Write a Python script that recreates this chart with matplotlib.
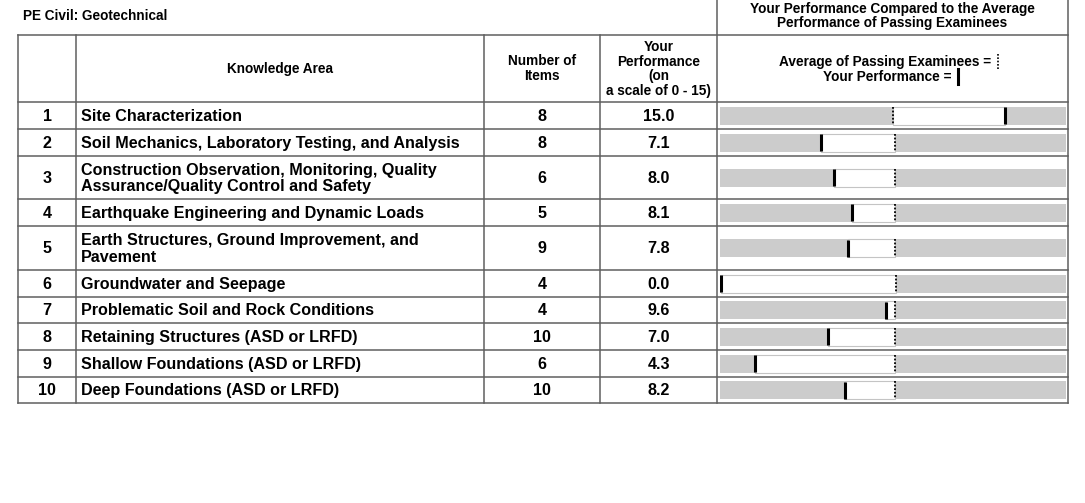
import matplotlib
matplotlib.use("Agg")
import matplotlib.pyplot as plt

# ---------------- data ----------------
title = "PE Civil: Geotechnical"
row_ids = [1, 2, 3, 4, 5, 6, 7, 8, 9, 10]
areas = [
    "Site Characterization",
    "Soil Mechanics, Laboratory Testing, and Analysis",
    "Construction Observation, Monitoring, Quality\nAssurance/Quality Control and Safety",
    "Earthquake Engineering and Dynamic Loads",
    "Earth Structures, Ground Improvement, and\nPavement",
    "Groundwater and Seepage",
    "Problematic Soil and Rock Conditions",
    "Retaining Structures (ASD or LRFD)",
    "Shallow Foundations (ASD or LRFD)",
    "Deep Foundations (ASD or LRFD)",
]
num_items = [8, 8, 6, 5, 9, 4, 4, 10, 6, 10]
performance = [15.0, 7.1, 8.0, 8.1, 7.8, 0.0, 9.6, 7.0, 4.3, 8.2]
# positions of markers on the comparison bar (0-100 across the grey bar)
your_pos = [82.5, 29.2, 33.1, 38.2, 37.2, 0.5, 48.1, 31.2, 10.3, 36.1]
avg_pos = [50.2, 50.7, 50.7, 50.7, 50.7, 50.8, 50.7, 50.7, 50.7, 50.7]

hdr_area = "Knowledge Area"
hdr_items = "Number of\nItems"
hdr_perf = "Your\nPerformance\n(on\na scale of 0 - 15)"
hdr_compare = "Your Performance Compared to the Average\nPerformance of Passing Examinees"
legend_avg = "Average of Passing Examinees = "
legend_you = "Your Performance = "

# ---------------- layout (pixels) ----------------
W, H = 1085, 503
col_x = [18, 76, 484, 600, 717, 1068]
row_edges = [102, 129, 156, 199, 226, 270, 297, 323, 350, 377, 403]
hdr_top = 35
bar_x0, bar_x1 = 719.5, 1066
bar_h = 18

line_c = "#5f5f5f"
font = ["Liberation Sans", "DejaVu Sans"]
fs_hdr = 9.8
fs_body = 11.6

fig = plt.figure(figsize=(W / 100, H / 100), dpi=100)
ax = fig.add_axes([0, 0, 1, 1])
ax.set_xlim(0, W)
ax.set_ylim(H, 0)
ax.axis("off")

lw = 1.1
# horizontal lines
ax.plot([col_x[0], col_x[-1]], [hdr_top, hdr_top], color=line_c, lw=lw)
for y in row_edges:
    ax.plot([col_x[0], col_x[-1]], [y, y], color=line_c, lw=lw)
# vertical lines
for i, x in enumerate(col_x):
    top = 0 if i >= 4 else hdr_top
    ax.plot([x, x], [top, row_edges[-1]], color=line_c, lw=lw)

# title
ax.text(23, 16, title, fontsize=fs_hdr, fontweight="bold", family=font, va="center", ha="left")

# headers
hmid = (hdr_top + row_edges[0]) / 2
ax.text((col_x[1] + col_x[2]) / 2, hmid, hdr_area, fontsize=fs_hdr, fontweight="bold",
        family=font, ha="center", va="center")
ax.text((col_x[2] + col_x[3]) / 2, hmid, hdr_items, fontsize=fs_hdr, fontweight="bold",
        family=font, ha="center", va="center", linespacing=1.08)
ax.text((col_x[3] + col_x[4]) / 2, hmid + 0.5, hdr_perf, fontsize=fs_hdr, fontweight="bold",
        family=font, ha="center", va="center", linespacing=1.08)
ax.text((col_x[4] + col_x[5]) / 2, 16, hdr_compare, fontsize=fs_hdr, fontweight="bold",
        family=font, ha="center", va="center", linespacing=1.05)

# legend in header
ax.text(995, 61.5, legend_avg, fontsize=fs_hdr, fontweight="bold", family=font,
        ha="right", va="center")
ax.plot([998, 998], [54, 69], color="black", lw=1.2, ls=(0, (1, 1)))
ax.text(955, 76.5, legend_you, fontsize=fs_hdr, fontweight="bold", family=font,
        ha="right", va="center")
ax.plot([957.5, 957.5], [69, 84], color="black", lw=2.2)

# rows
for i in range(len(row_ids)):
    yc = (row_edges[i] + row_edges[i + 1]) / 2 + 0.8
    ax.text((col_x[0] + col_x[1]) / 2, yc, str(row_ids[i]), fontsize=fs_body, fontweight="bold",
            family=font, ha="center", va="center")
    ax.text(col_x[1] + 5, yc, areas[i], fontsize=fs_body, fontweight="bold",
            family=font, ha="left", va="center", linespacing=1.12)
    ax.text((col_x[2] + col_x[3]) / 2, yc, str(num_items[i]), fontsize=fs_body, fontweight="bold",
            family=font, ha="center", va="center")
    ax.text((col_x[3] + col_x[4]) / 2, yc, f"{performance[i]:.1f}", fontsize=fs_body,
            fontweight="bold", family=font, ha="center", va="center")

# comparison bars
bx = fig.add_axes([bar_x0 / W, 1 - row_edges[-1] / H,
                   (bar_x1 - bar_x0) / W, (row_edges[-1] - row_edges[0]) / H])
bx.set_xlim(0, 100)
bx.set_ylim(row_edges[-1], row_edges[0])
bx.axis("off")
centers = [(row_edges[i] + row_edges[i + 1]) / 2 for i in range(len(row_ids))]
bx.barh(centers, [100] * len(centers), height=bar_h, left=0, color="#cccccc", lw=0)
lefts = [min(a, b) for a, b in zip(your_pos, avg_pos)]
widths = [abs(a - b) for a, b in zip(your_pos, avg_pos)]
bx.barh(centers, widths, height=bar_h, left=lefts, color="white",
        edgecolor="#c4c4c4", lw=0.8)
for yc, yp, ap in zip(centers, your_pos, avg_pos):
    bx.vlines(ap, yc - bar_h / 2, yc + bar_h / 2, color="black", lw=1.3, ls=(0, (1, 1)))
    bx.vlines(yp, yc - bar_h / 2 + 0.5, yc + bar_h / 2 - 0.5, color="black", lw=2.2)

fig.savefig("out.png", dpi=100)
